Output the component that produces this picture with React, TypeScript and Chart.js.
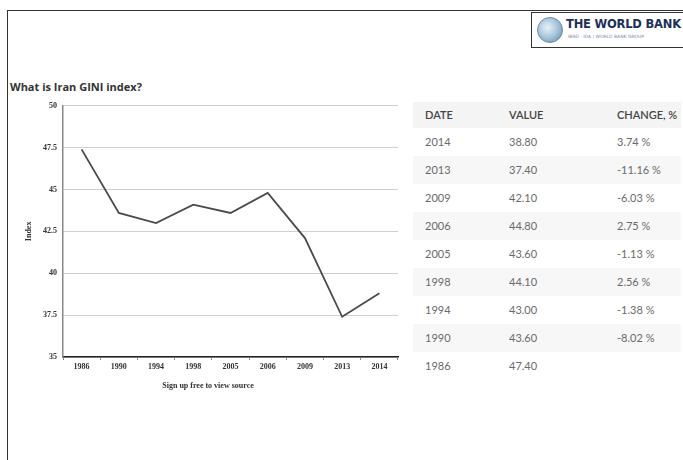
import React, { useEffect, useRef } from "react";
import { Chart, registerables } from "chart.js";

Chart.register(...registerables);

const years = ["1986", "1990", "1994", "1998", "2005", "2006", "2009", "2013", "2014"];
const giniValues = [47.4, 43.6, 43.0, 44.1, 43.6, 44.8, 42.1, 37.4, 38.8];
const yTicks = [35, 37.5, 40, 42.5, 45, 47.5, 50];

const tableDates = ["2014", "2013", "2009", "2006", "2005", "1998", "1994", "1990", "1986"];
const tableValues = ["38.80", "37.40", "42.10", "44.80", "43.60", "44.10", "43.00", "43.60", "47.40"];
const tableChanges = ["3.74 %", "-11.16 %", "-6.03 %", "2.75 %", "-1.13 %", "2.56 %", "-1.38 %", "-8.02 %", ""];

const tickFont = { family: "'Liberation Serif', serif", size: 8, weight: "bold" as const };

function GiniChart() {
  const ref = useRef<HTMLCanvasElement | null>(null);
  useEffect(() => {
    if (!ref.current) return;
    const chart = new Chart(ref.current, {
      type: "line",
      data: {
        labels: years,
        datasets: [
          {
            data: giniValues,
            borderColor: "#4a4a4a",
            borderWidth: 1.8,
            pointRadius: 0,
            tension: 0,
            fill: false,
          },
        ],
      },
      options: {
        animation: false,
        responsive: false,
        maintainAspectRatio: false,
        layout: { padding: { top: 9, left: 24, right: 12, bottom: 8 } },
        plugins: { legend: { display: false }, tooltip: { enabled: false } },
        scales: {
          x: {
            offset: true,
            grid: {
              offset: true,
              drawOnChartArea: false,
              drawTicks: true,
              tickLength: 3,
              color: "#888",
            },
            border: { color: "#222", width: 1.5 },
            ticks: { font: tickFont, color: "#333", padding: 2, maxRotation: 0, autoSkip: false },
            afterFit: (s: any) => {
              s.height = 40;
            },
          },
          y: {
            min: 35,
            max: 50,
            afterBuildTicks: (s: any) => {
              s.ticks = yTicks.map((v) => ({ value: v }));
            },
            grid: { color: "#cfcfcf", drawTicks: false, lineWidth: 1 },
            border: { color: "#888", width: 1.5 },
            ticks: {
              font: tickFont,
              color: "#333",
              padding: 6,
              callback: (v: any) => String(v),
            },
            title: {
              display: true,
              text: "Index",
              font: { family: "'Liberation Serif', serif", size: 8, weight: "bold" },
              color: "#333",
              padding: { top: 0, bottom: 0 },
            },
            afterFit: (s: any) => {
              s.width = 39;
            },
          },
        },
      },
    });
    return () => chart.destroy();
  }, []);
  return <canvas ref={ref} width={410} height={310} style={{ position: "absolute", left: 0, top: 95, width: 410, height: 310 }} />;
}

export default function App() {
  const rowTop = 128;
  const rowH = 28;
  const cellText: React.CSSProperties = {
    position: "absolute",
    fontFamily: "Lato, 'DejaVu Sans', sans-serif",
    fontSize: 11,
    color: "#6a6a6a",
    lineHeight: "28px",
  };
  const headText: React.CSSProperties = { ...cellText, top: 102, lineHeight: "26px", color: "#444", fontWeight: 600 };
  return (
    <div
      style={{
        position: "fixed",
        left: 0,
        top: 0,
        width: 683,
        height: 460,
        background: "#fff",
        overflow: "hidden",
        fontFamily: "'Open Sans', sans-serif",
      }}
    >
      {/* outer frame */}
      <div
        style={{
          position: "absolute",
          left: 7,
          top: 10,
          width: 700,
          height: 470,
          borderLeft: "1.5px solid #333",
          borderTop: "1.5px solid #333",
        }}
      />
      {/* logo */}
      <div
        style={{
          position: "absolute",
          left: 531,
          top: 12,
          width: 170,
          height: 34,
          border: "1px solid #333",
          background: "#fff",
        }}
      >
        <div
          style={{
            position: "absolute",
            left: 5,
            top: 4,
            width: 26,
            height: 26,
            borderRadius: "50%",
            background: "radial-gradient(circle at 40% 40%, #e8f2f8 0%, #9fbfd6 55%, #5b7f9e 100%)",
            border: "1px solid #6f8aa3",
            boxSizing: "border-box",
          }}
        />
        <div
          style={{
            position: "absolute",
            left: 34,
            top: 4,
            fontFamily: "'DejaVu Sans', sans-serif",
            fontWeight: "bold",
            fontSize: 11.5,
            color: "#1d2f5a",
            whiteSpace: "nowrap",
            letterSpacing: -0.2,
          }}
        >
          THE WORLD BANK
        </div>
        <div
          style={{
            position: "absolute",
            left: 36,
            top: 21,
            fontFamily: "'DejaVu Sans', sans-serif",
            fontSize: 4.5,
            color: "#7a8aa0",
            whiteSpace: "nowrap",
          }}
        >
          IBRD · IDA | WORLD BANK GROUP
        </div>
      </div>
      {/* title */}
      <div
        style={{
          position: "absolute",
          left: 10,
          top: 79,
          fontFamily: "'Open Sans', sans-serif",
          fontWeight: "bold",
          fontSize: 11,
          color: "#333",
          whiteSpace: "nowrap",
        }}
      >
        What is Iran GINI index?
      </div>
      <GiniChart />
      {/* x axis title */}
      <div
        style={{
          position: "absolute",
          left: 208,
          top: 381,
          transform: "translateX(-50%)",
          fontFamily: "'Liberation Serif', serif",
          fontWeight: "bold",
          fontSize: 8,
          color: "#333",
          whiteSpace: "nowrap",
        }}
      >
        Sign up free to view source
      </div>
      {/* table */}
      <div style={{ position: "absolute", left: 413, top: 102, width: 268, height: 26, background: "#f4f4f4" }} />
      <div style={{ ...headText, left: 425 }}>DATE</div>
      <div style={{ ...headText, left: 509 }}>VALUE</div>
      <div style={{ ...headText, left: 617 }}>CHANGE, %</div>
      {tableDates.map((d, i) => (
        <React.Fragment key={d}>
          {i % 2 === 1 && (
            <div
              style={{
                position: "absolute",
                left: 413,
                top: rowTop + i * rowH,
                width: 268,
                height: rowH,
                background: "#f7f7f7",
              }}
            />
          )}
          <div style={{ ...cellText, left: 425, top: rowTop + i * rowH }}>{d}</div>
          <div style={{ ...cellText, left: 509, top: rowTop + i * rowH }}>{tableValues[i]}</div>
          <div style={{ ...cellText, left: 617, top: rowTop + i * rowH }}>{tableChanges[i]}</div>
        </React.Fragment>
      ))}
    </div>
  );
}
